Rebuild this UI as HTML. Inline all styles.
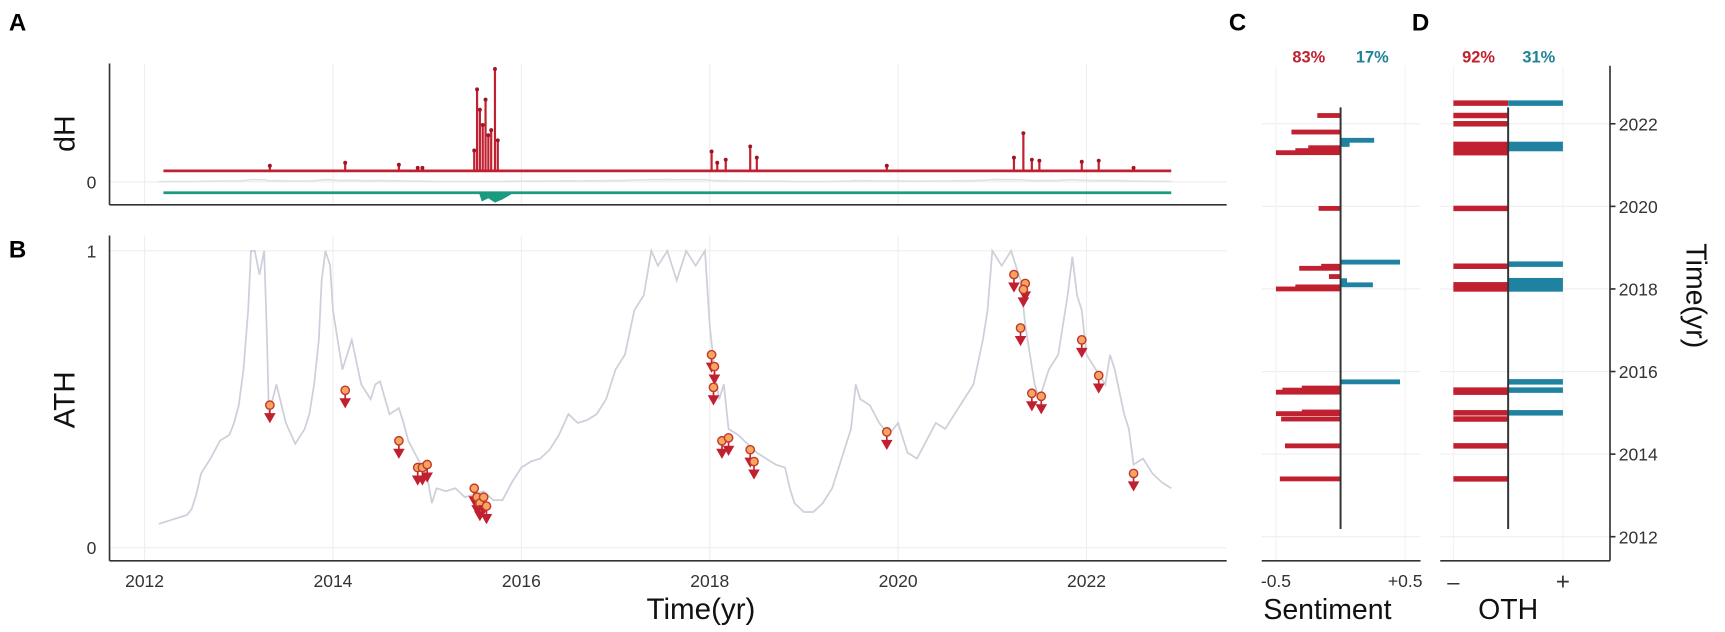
<!DOCTYPE html>
<html><head><meta charset="utf-8"><style>
html,body{margin:0;padding:0;background:#fff;}
svg{display:block;font-family:"Liberation Sans","DejaVu Sans",sans-serif;}
</style></head><body>
<svg id="fig" width="1725" height="632" viewBox="0 0 1575 577" preserveAspectRatio="none" xmlns="http://www.w3.org/2000/svg">
<g id="grid"></g>
<g id="marks"></g>
<g id="axes"></g>
</svg>
<script>
// ---- data ----
const xTickYears = [2012, 2014, 2016, 2018, 2020, 2022];
const athYears = [2012.15,2012.25,2012.35,2012.45,2012.5,2012.55,2012.6,2012.7,2012.8,2012.9,2012.95,2013.0,2013.05,2013.1,2013.13,2013.17,2013.22,2013.27,2013.3,2013.32,2013.36,2013.4,2013.5,2013.6,2013.7,2013.75,2013.8,2013.85,2013.88,2013.92,2013.97,2014.0,2014.05,2014.1,2014.15,2014.2,2014.3,2014.4,2014.45,2014.5,2014.6,2014.7,2014.75,2014.8,2014.9,2015.0,2015.05,2015.1,2015.2,2015.3,2015.4,2015.5,2015.6,2015.7,2015.8,2015.9,2016.0,2016.1,2016.2,2016.3,2016.4,2016.5,2016.6,2016.7,2016.8,2016.9,2017.0,2017.1,2017.2,2017.3,2017.38,2017.45,2017.55,2017.65,2017.75,2017.85,2017.95,2018.0,2018.05,2018.1,2018.15,2018.2,2018.3,2018.4,2018.5,2018.6,2018.7,2018.8,2018.85,2018.9,2019.0,2019.1,2019.2,2019.3,2019.4,2019.5,2019.55,2019.6,2019.7,2019.8,2019.9,2020.0,2020.1,2020.2,2020.3,2020.4,2020.5,2020.6,2020.7,2020.8,2020.9,2020.95,2021.0,2021.1,2021.2,2021.3,2021.35,2021.4,2021.45,2021.5,2021.6,2021.7,2021.75,2021.8,2021.85,2021.9,2021.95,2022.0,2022.1,2022.2,2022.25,2022.3,2022.4,2022.45,2022.5,2022.6,2022.7,2022.8,2022.9];
const athValues = [0.08,0.09,0.1,0.11,0.13,0.18,0.25,0.3,0.36,0.38,0.42,0.48,0.6,0.8,1.0,1.0,0.92,1.0,0.7,0.45,0.5,0.55,0.42,0.35,0.4,0.45,0.55,0.7,0.9,1.0,0.95,0.8,0.7,0.6,0.65,0.7,0.55,0.5,0.55,0.56,0.45,0.47,0.42,0.36,0.3,0.24,0.15,0.2,0.19,0.2,0.17,0.18,0.19,0.16,0.16,0.22,0.27,0.29,0.3,0.33,0.38,0.45,0.42,0.43,0.45,0.5,0.6,0.65,0.8,0.85,1.0,0.95,1.0,0.9,1.0,0.95,1.0,0.75,0.6,0.5,0.55,0.4,0.38,0.35,0.32,0.3,0.28,0.27,0.2,0.15,0.12,0.12,0.15,0.2,0.3,0.4,0.55,0.5,0.48,0.42,0.38,0.42,0.32,0.3,0.36,0.42,0.4,0.45,0.5,0.55,0.7,0.8,1.0,0.95,1.0,0.9,0.75,0.65,0.55,0.5,0.6,0.65,0.75,0.85,0.98,0.85,0.8,0.65,0.6,0.55,0.65,0.6,0.45,0.4,0.28,0.3,0.25,0.22,0.2];
const eventYears = [2013.33,2014.13,2014.7,2014.9,2014.95,2015.0,2015.5,2015.53,2015.56,2015.6,2015.63,2018.02,2018.05,2018.04,2018.13,2018.2,2018.43,2018.47,2019.88,2021.23,2021.35,2021.33,2021.3,2021.42,2021.52,2021.95,2022.13,2022.5];
const eventValues = [0.48,0.53,0.36,0.27,0.27,0.28,0.2,0.17,0.15,0.17,0.14,0.65,0.61,0.54,0.36,0.37,0.33,0.29,0.39,0.92,0.89,0.87,0.74,0.52,0.51,0.7,0.58,0.25];
const spikeYears = [2013.33,2014.13,2014.7,2014.9,2014.95,2015.5,2015.53,2015.56,2015.59,2015.62,2015.65,2015.68,2015.72,2015.75,2018.02,2018.08,2018.17,2018.43,2018.5,2019.88,2021.23,2021.33,2021.42,2021.5,2021.95,2022.13,2022.5];
const spikeValues = [0.05,0.08,0.06,0.03,0.03,0.2,0.8,0.6,0.45,0.7,0.35,0.4,1.0,0.3,0.19,0.08,0.11,0.24,0.13,0.05,0.13,0.37,0.11,0.1,0.09,0.1,0.03];
const sentYears = [2013.4,2014.2,2014.85,2014.98,2015.02,2015.5,2015.55,2015.6,2018.0,2018.05,2018.3,2018.5,2018.55,2019.95,2021.3,2021.35,2021.42,2021.8,2022.2];
const sentValues = [-0.47,-0.43,-0.46,-0.5,-0.3,-0.5,-0.45,-0.3,-0.5,-0.35,-0.09,-0.32,-0.15,-0.17,-0.5,-0.35,-0.25,-0.38,-0.18];
const sentPosYears = [2015.75,2018.1,2018.2,2018.65,2021.5,2021.6];
const sentPosValues = [0.46,0.25,0.05,0.46,0.07,0.26];
const othNegYears = [2013.4,2014.2,2014.85,2015.0,2015.5,2015.55,2018.0,2018.1,2018.55,2019.95,2021.3,2021.4,2021.5,2022.0,2022.2,2022.5];
const othPosYears = [2015.0,2015.55,2015.75,2018.0,2018.1,2018.2,2018.6,2021.4,2021.5,2022.5];
const yTickYears = [2012, 2014, 2016, 2018, 2020, 2022];

// ---- scales ----
const xA = y => 132 + (y - 2012) * 86;
const yB = v => 500 - v * 271;
const yA = v => 156 - v * 93;
const yT = y => 490 - (y - 2012) * 37.7;
const xC = v => 1224 + v * 118;
const xD = s => 1377 + s * 50;
const NS = "http://www.w3.org/2000/svg";
function mk(parent, tag, attrs, text) {
  const e = document.createElementNS(NS, tag);
  for (const k in attrs) e.setAttribute(k, attrs[k]);
  if (text !== undefined) e.textContent = text;
  document.getElementById(parent).appendChild(e);
  return e;
}
let el;
// grids
for (const t of xTickYears) {
  el = mk('grid','line',{x1:xA(t),x2:xA(t),y1:58,y2:187,stroke:'#eee','stroke-width':1});
   
  el = mk('grid','line',{x1:xA(t),x2:xA(t),y1:215,y2:512,stroke:'#eee','stroke-width':1});
   
}
for (const v of [0,1]) {
  el = mk('grid','line',{x1:100,x2:1120,y1:yB(v),y2:yB(v),stroke:'#eee'});
   
}
el = mk('grid','line',{x1:100,x2:1120,y1:166,y2:166,stroke:'#eee'});
 
for (const t of yTickYears) {
  el = mk('grid','line',{x1:1152,x2:1297,y1:yT(t),y2:yT(t),stroke:'#eee'});
   
  el = mk('grid','line',{x1:1315,x2:1470,y1:yT(t),y2:yT(t),stroke:'#eee'});
   
}
for (const x of [xC(-0.5), xC(0.5), xD(-1), xD(1)]) {
  el = mk('grid','line',{x1:x,x2:x,y1:60,y2:512,stroke:'#f2f2f2'});
   
}

// panel A
el = mk('marks','polyline',{points:athYears.map((y,i)=>xA(y)+','+(166-athValues[i]*2)).join(' '),fill:'none',stroke:'#e2e2e2','stroke-width':1.5});
 
el = mk('marks','line',{x1:xA(2012.2),x2:xA(2022.9),y1:176,y2:176,stroke:'#1a9a80','stroke-width':2.5});
 
el = mk('marks','path',{d:`M${xA(2015.55)},176 L${xA(2015.58)},184 L${xA(2015.65)},181 L${xA(2015.72)},185 L${xA(2015.8)},182 L${xA(2015.9)},177 Z`,fill:'#1a9a80'});
 
el = mk('marks','line',{x1:xA(2012.2),x2:xA(2022.9),y1:156,y2:156,stroke:'#c0202f','stroke-width':2.5});
 
spikeYears.forEach((y,i)=>{
  el = mk('marks','line',{x1:xA(y),x2:xA(y),y1:156,y2:yA(spikeValues[i]),stroke:'#c0202f','stroke-width':2});
   
  el = mk('marks','circle',{cx:xA(y),cy:yA(spikeValues[i]),r:1.8,fill:'#a01525'});
   
});

// panel B
el = mk('marks','polyline',{points:athYears.map((y,i)=>xA(y)+','+yB(athValues[i])).join(' '),fill:'none',stroke:'#cdd0da','stroke-width':1.6});
 
eventYears.forEach((y,i)=>{
  const cx = xA(y), cy = yB(eventValues[i]);
  el = mk('marks','path',{d:`M${cx},${cy} L${cx},${cy+10} M${cx-4},${cy+8} L${cx+4},${cy+8} L${cx},${cy+15} Z`,fill:'#c0202f',stroke:'#c0202f','stroke-width':1.5});
   
  el = mk('marks','circle',{cx:cx,cy:cy,r:3.8,fill:'#f7a560',stroke:'#c0392b','stroke-width':1.3});
   
});

// panel C
sentYears.forEach((y,i)=>{
  const v = sentValues[i];
  el = mk('marks','rect',{x:xC(v),y:yT(y)-2.2,width:xC(0)-xC(v),height:4.4,fill:'#c0202f'});
   
});
sentPosYears.forEach((y,i)=>{
  const v = sentPosValues[i];
  el = mk('marks','rect',{x:xC(0),y:yT(y)-2.2,width:xC(v)-xC(0),height:4.4,fill:'#1f82a0'});
   
});
// panel D
othNegYears.forEach(y=>{
  el = mk('marks','rect',{x:xD(-1),y:yT(y)-2.5,width:xD(0)-xD(-1),height:5,fill:'#c0202f'});
   
});
othPosYears.forEach(y=>{
  el = mk('marks','rect',{x:xD(0),y:yT(y)-2.5,width:xD(1)-xD(0),height:5,fill:'#1f82a0'});
   
});

// axes
const ax = 'axes';
function line(n,x1,y1,x2,y2,c,w){ const e=mk(ax,'line',{x1,y1,x2,y2,stroke:c||'#333','stroke-width':w||1.5}); return e; }
function txt(n,x,y,s,t,extra){ const a=Object.assign({x,y,'font-size':s,fill:'#333','text-anchor':'middle'},extra||{}); return mk(ax,'text',a,t); }
el = line(0,100,58,100,187);  
el = line(0,100,187,1120,187);  
el = line(0,100,215,100,512);  
el = line(0,100,512,1120,512);  
el = line(0,1152,512,1297,512);  
el = line(0,1315,512,1470,512);  
el = line(0,1470,60,1470,512);  
el = line(0,xC(0),98,xC(0),483,'#333',1.8);  
el = line(0,xD(0),98,xD(0),483,'#333',1.8);  

for (const t of xTickYears) {
  el = txt(0,xA(t),536,16,String(t));  
}
for (const t of yTickYears) {
  el = txt(0,1478,yT(t)+6,16,String(t),{'text-anchor':'start'});  
  el = line(0,1470,yT(t),1475,yT(t));  
}
el = txt(0,88,172,16,'0',{'text-anchor':'end'});  
el = txt(0,88,235,16,'1',{'text-anchor':'end'});  
el = txt(0,88,506,16,'0',{'text-anchor':'end'});  
el = txt(0,xC(-0.5),536,16,'-0.5');  
el = txt(0,xC(0.5),536,16,'+0.5');  
el = txt(0,xD(-1),538,20,'–');  
el = txt(0,xD(1),538,22,'+');  
el = txt(0,640,565,27,'Time(yr)',{fill:'#111'});  
el = txt(0,1212,565,26,'Sentiment',{fill:'#111'});  
el = txt(0,1377,565,26,'OTH',{fill:'#111'});  
el = txt(0,0,0,26,'dH',{fill:'#111',transform:'translate(68,122) rotate(-90)'});  
el = txt(0,0,0,27,'ATH',{fill:'#111',transform:'translate(68,365) rotate(-90)'});  
el = txt(0,0,0,26,'Time(yr)',{fill:'#111',transform:'translate(1540,270) rotate(90)'});  
el = txt(0,1195,57,15,'83%',{fill:'#c0202f','font-weight':'bold'});  
el = txt(0,1253,57,15,'17%',{fill:'#1f8296','font-weight':'bold'});  
el = txt(0,1350,57,15,'92%',{fill:'#c0202f','font-weight':'bold'});  
el = txt(0,1405,57,15,'31%',{fill:'#1f8296','font-weight':'bold'});  
for (const [l,x,y] of [['A',16,28],['B',16,235],['C',1130,28],['D',1297,28]]) {
  el = txt(0,x,y,22,l,{fill:'#000','font-weight':'bold'});  
}
</script>
</body></html>
